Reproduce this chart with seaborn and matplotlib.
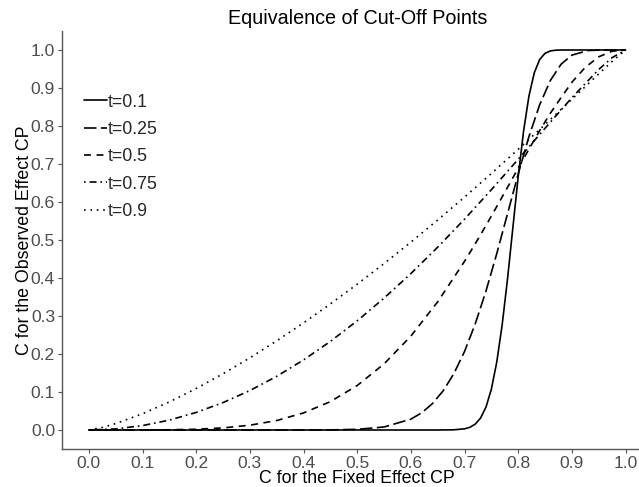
import numpy as np
import pandas as pd
import matplotlib
matplotlib.use("Agg")
import matplotlib.pyplot as plt
import seaborn as sns

# ---- data ----
x_t01 = [0.0, 0.1, 0.2, 0.3, 0.4, 0.5, 0.6, 0.65, 0.68, 0.70, 0.71, 0.72, 0.73, 0.74, 0.75,
         0.76, 0.77, 0.78, 0.79, 0.80, 0.81, 0.82, 0.83, 0.84, 0.85, 0.86, 0.87, 0.88, 0.90, 1.0]
y_t01 = [0.0, 0.0, 0.0, 0.0, 0.0, 0.0, 0.0, 0.0, 0.0005, 0.0031, 0.0071, 0.0155, 0.0317, 0.0605, 0.1077,
         0.1785, 0.2756, 0.3967, 0.5319, 0.6671, 0.7867, 0.8790, 0.9404, 0.9751, 0.9913, 0.9976, 0.9995, 1.0, 1.0, 1.0]

x_t025 = [0.0, 0.1, 0.2, 0.3, 0.4, 0.45, 0.5, 0.55, 0.6, 0.62, 0.64, 0.66, 0.68, 0.70, 0.72, 0.74,
          0.76, 0.78, 0.80, 0.82, 0.84, 0.86, 0.88, 0.90, 0.93, 0.96, 1.0]
y_t025 = [0.0, 0.0, 0.0, 0.0, 0.0, 0.0003, 0.0018, 0.0079, 0.0286, 0.0451, 0.0692, 0.1028, 0.1481, 0.2067, 0.2795, 0.3660,
          0.4640, 0.5688, 0.6739, 0.7722, 0.8560, 0.9201, 0.9628, 0.9865, 0.9986, 1.0, 1.0]

x_t05 = [0.0, 0.05, 0.1, 0.15, 0.2, 0.25, 0.3, 0.35, 0.4, 0.45, 0.5, 0.55, 0.6, 0.65, 0.7, 0.72, 0.74,
         0.76, 0.78, 0.80, 0.82, 0.84, 0.86, 0.88, 0.90, 0.925, 0.95, 0.975, 1.0]
y_t05 = [0.0, 0.0, 0.0001, 0.0006, 0.0020, 0.0056, 0.0126, 0.0249, 0.0449, 0.0747, 0.1170, 0.1739, 0.2471, 0.3374, 0.4438, 0.4902, 0.5384,
         0.5880, 0.6384, 0.6890, 0.7391, 0.7878, 0.8340, 0.8750, 0.9151, 0.9544, 0.9821, 0.9968, 1.0]

x_t075 = [0.0, 0.05, 0.1, 0.15, 0.2, 0.25, 0.3, 0.35, 0.4, 0.45, 0.5, 0.55, 0.6, 0.65, 0.7,
          0.75, 0.8, 0.85, 0.9, 0.95, 0.975, 1.0]
y_t075 = [0.0, 0.0029, 0.0116, 0.0260, 0.0462, 0.0721, 0.1038, 0.1412, 0.1844, 0.2331, 0.2874, 0.3470, 0.4116, 0.4811, 0.5549,
          0.6324, 0.7126, 0.7941, 0.8745, 0.9487, 0.9800, 1.0]

x_t09 = [0.0, 0.025, 0.05, 0.1, 0.15, 0.2, 0.25, 0.3, 0.35, 0.4, 0.45, 0.5, 0.55, 0.6, 0.65, 0.7,
         0.75, 0.8, 0.85, 0.9, 0.95, 0.975, 1.0]
y_t09 = [0.0, 0.0067, 0.0169, 0.0427, 0.0739, 0.1092, 0.1480, 0.1899, 0.2346, 0.2819, 0.3317, 0.3837, 0.4380, 0.4943, 0.5527, 0.6129,
         0.6750, 0.7387, 0.8040, 0.8704, 0.9372, 0.9700, 1.0]

labels = ["t=0.1", "t=0.25", "t=0.5", "t=0.75", "t=0.9"]
series_x = [x_t01, x_t025, x_t05, x_t075, x_t09]
series_y = [y_t01, y_t025, y_t05, y_t075, y_t09]

ticks = [0.0, 0.1, 0.2, 0.3, 0.4, 0.5, 0.6, 0.7, 0.8, 0.9, 1.0]
tick_labels = ["0.0", "0.1", "0.2", "0.3", "0.4", "0.5", "0.6", "0.7", "0.8", "0.9", "1.0"]

frames = []
for lab, xs, ys in zip(labels, series_x, series_y):
    frames.append(pd.DataFrame({"x": xs, "y": ys, "t": lab}))
df = pd.concat(frames, ignore_index=True)

# ---- style ----
sns.set_theme(style="white")
plt.rcParams["font.family"] = ["Liberation Sans", "DejaVu Sans"]
plt.rcParams["lines.scale_dashes"] = False

fig = plt.figure(figsize=(6.39, 4.87), dpi=100)
ax = fig.add_axes([62 / 639, 38 / 487, (652.4 - 62) / 639, (449 - 31) / 487])

dash_map = {
    "t=0.1": "",
    "t=0.25": (9.0, 3.2),
    "t=0.5": (5.0, 4.0),
    "t=0.75": (1.2, 2.8, 5.0, 2.8),
    "t=0.9": (1.2, 3.4),
}

sns.lineplot(data=df, x="x", y="y", style="t", style_order=labels, dashes=dash_map,
             color="black", linewidth=1.2, estimator=None, sort=False, ax=ax)

ax.set_xlim(-0.05, 1.05)
ax.set_ylim(-0.05, 1.05)
ax.set_xticks(ticks)
ax.set_xticklabels(tick_labels)
ax.set_yticks(ticks)
ax.set_yticklabels(tick_labels)

for s in ["top", "right"]:
    ax.spines[s].set_visible(False)
for s in ["left", "bottom"]:
    ax.spines[s].set_color("#555555")
    ax.spines[s].set_linewidth(1.0)

ax.tick_params(axis="both", which="major", direction="out", length=3, width=0.8,
               color="#555555", labelsize=12.6, labelcolor="#4D4D4D", pad=2,
               bottom=True, left=True)

ax.set_xlabel("C for the Fixed Effect CP", fontsize=12.8, color="black", labelpad=-1)
ax.set_ylabel("C for the Observed Effect CP", fontsize=12.8, color="black", labelpad=-1.5)
ax.set_title("Equivalence of Cut-Off Points", fontsize=14.2, color="black", pad=5)

handles, labs = ax.get_legend_handles_labels()
leg = ax.legend(handles, labs, loc="upper left", bbox_to_anchor=(0.038, 0.85),
                frameon=False, fontsize=12.8, handlelength=1.25, handletextpad=0.08,
                labelspacing=0.58, borderpad=0, borderaxespad=0)

fig.savefig("out.png", dpi=100)
